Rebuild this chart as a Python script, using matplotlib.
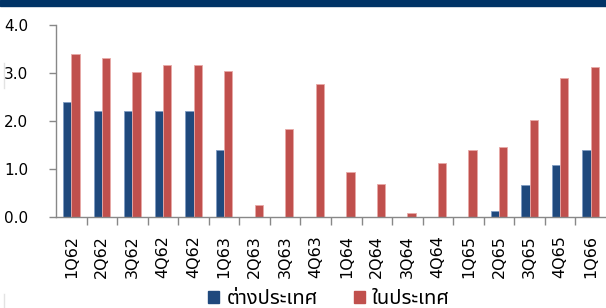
import matplotlib
matplotlib.use("Agg")
import matplotlib.pyplot as plt
from matplotlib import font_manager
from matplotlib.ft2font import FT2Font
from matplotlib.patches import Rectangle
from matplotlib.lines import Line2D
import numpy as np

categories = ["1Q62", "2Q62", "3Q62", "4Q62", "4Q62", "1Q63", "2Q63", "3Q63", "4Q63",
              "1Q64", "2Q64", "3Q64", "4Q64", "1Q65", "2Q65", "3Q65", "4Q65", "1Q66"]
foreign = [2.40, 2.21, 2.21, 2.21, 2.21, 1.40, 0, 0, 0,
           0, 0, 0, 0, 0, 0.14, 0.67, 1.09, 1.40]
domestic = [3.41, 3.31, 3.03, 3.17, 3.17, 3.05, 0.25, 1.83, 2.78,
            0.95, 0.70, 0.08, 1.13, 1.40, 1.47, 2.03, 2.91, 3.13]
series_names = ["ต่างประเทศ", "ในประเทศ"]
yticks = [0.0, 1.0, 2.0, 3.0, 4.0]

# find a font with Thai glyphs
thai_font = None
preferred = ["Noto Sans Thai", "Noto Sans Thai UI", "Tahoma", "Loma", "Garuda", "Sarabun", "Norasi"]
cands = []
for f in font_manager.fontManager.ttflist:
    try:
        cm = FT2Font(f.fname).get_charmap()
        if ord("ต") in cm and ord("่") in cm:
            cands.append(f.name)
    except Exception:
        pass
for p in preferred:
    if p in cands:
        thai_font = p
        break
if thai_font is None and cands:
    thai_font = cands[0]
thai_family = ([thai_font] if thai_font else []) + ["DejaVu Sans"]

plt.rcParams["font.family"] = ["DejaVu Sans"]

fig = plt.figure(figsize=(6.06, 3.08), dpi=100)
ax = fig.add_axes([56/606, (308-217.3)/308, 550/606, 192/308])

x = np.arange(len(categories))
w = 0.27
blue = "#1F497D"
red = "#C0504D"
ax.bar(x - w/2, foreign, width=w, color=blue, edgecolor="#7f9cc4", linewidth=0.6)
ax.bar(x + w/2, domestic, width=w, color=red, edgecolor="#e8a9a7", linewidth=0.6)

ax.set_xlim(-0.5, len(categories) - 0.5)
ax.set_ylim(0, 4.0)
ax.set_yticks(yticks)
ax.set_yticklabels([f"{v:.1f}" for v in yticks], fontsize=11)
ax.set_xticks(x)
ax.set_xticklabels(categories, rotation=90, fontsize=11.5)
ax.tick_params(axis="x", length=0, pad=13)
ax.tick_params(axis="y", length=5, color="#888888", width=1, pad=15)
ax.set_xticks(np.arange(0.5, len(categories) - 0.5, 1), minor=True)
ax.tick_params(axis="x", which="minor", length=6, color="#888888", width=1)

for s in ["top", "right"]:
    ax.spines[s].set_visible(False)
for s in ["left", "bottom"]:
    ax.spines[s].set_color("#888888")
    ax.spines[s].set_linewidth(1)

# top band
fig.add_artist(Rectangle((0, 1 - 5.5/308), 1, 5.5/308, transform=fig.transFigure,
                         color="#003366", zorder=0))
# faint left marks
fig.add_artist(Line2D([4/606, 4/606], [1 - 63/308, 1 - 88/308], transform=fig.transFigure,
                      color="#e3e3e3", lw=1))
fig.add_artist(Line2D([4/606, 4/606], [1 - 294/308, 0], transform=fig.transFigure,
                      color="#e3e3e3", lw=1))

handles = [Rectangle((0, 0), 1, 1, color=blue), Rectangle((0, 0), 1, 1, color=red)]
leg = fig.legend(handles, series_names, loc="center", bbox_to_anchor=(329/606, 1 - 299/308),
                 ncol=2, frameon=False, prop={"family": thai_family, "size": 14.5},
                 handlelength=0.55, handleheight=0.55, handletextpad=0.35, columnspacing=1.8,
                 borderpad=0, borderaxespad=0)

fig.savefig("out.png", dpi=100)
